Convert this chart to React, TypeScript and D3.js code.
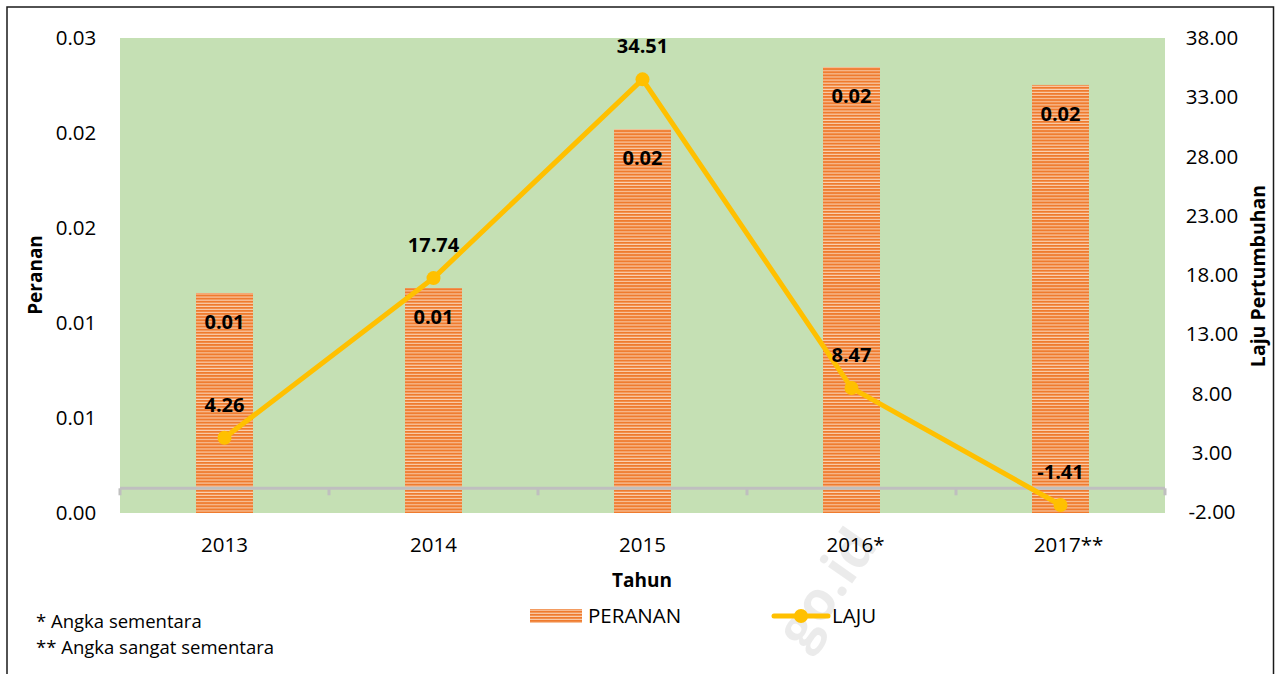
import React from "react";
import * as d3 from "d3";

const categories = ["2013", "2014", "2015", "2016*", "2017**"];
const peranan = [0.01158, 0.01184, 0.0202, 0.02347, 0.02253];
const perananLabels = ["0.01", "0.01", "0.02", "0.02", "0.02"];
const laju = [4.26, 17.74, 34.51, 8.47, -1.41];
const leftTicks = [0, 0.005, 0.01, 0.015, 0.02, 0.025];
const leftTickLabels = ["0.00", "0.01", "0.01", "0.02", "0.02", "0.03"];
const rightTicks = [-2, 3, 8, 13, 18, 23, 28, 33, 38];

const FONT = "'Open Sans', Carlito, Calibri, sans-serif";

export default function App() {
  const W = 1277, H = 674;
  const x0 = 120, x1 = 1165, yTop = 38, yBot = 513;
  const x = d3.scaleBand().domain(categories).range([x0, x1]).padding(0);
  const yL = d3.scaleLinear().domain([0, 0.025]).range([yBot, yTop]);
  const yR = d3.scaleLinear().domain([-2, 38]).range([yBot - 1, yTop]);
  const barW = 57;
  const cx = (c: string) => (x(c) as number) + x.bandwidth() / 2;
  const line = d3.line<number>().x((_, i) => cx(categories[i])).y((d) => yR(d));
  const axisY = yR(0);
  const bounds = [...categories.map((c) => x(c) as number), x1];

  return (
    <svg width={W} height={H} style={{ position: "absolute", left: 0, top: 0, fontFamily: FONT }}>
      <defs>
        <pattern id="stripes" patternUnits="userSpaceOnUse" width={8} height={3.1}>
          <rect x={0} y={0} width={8} height={3.1} fill="#FAD0B0" />
          <rect x={0} y={0} width={8} height={2} fill="#EF7B2E" />
        </pattern>
      </defs>
      <rect x={0} y={0} width={W} height={H} fill="#fff" />
      <rect x={7} y={7} width={1266.5} height={H + 20} fill="none" stroke="#1a1a1a" strokeWidth={1.5} />

      {/* watermark */}
      <text x={826} y={588} transform="rotate(-55 826 588)" fontSize={54} fontWeight="bold"
        fill="#000" fillOpacity={0.08} textAnchor="middle" dy="0.35em">go.id</text>

      <rect x={x0} y={yTop} width={x1 - x0} height={yBot - yTop} fill="#C5E0B4" />

      {/* bars */}
      {categories.map((c, i) => (
        <rect key={c} x={cx(c) - barW / 2} y={yL(peranan[i])} width={barW}
          height={yBot - yL(peranan[i])} fill="url(#stripes)" />
      ))}

      {/* category axis */}
      <line x1={x0} x2={x1} y1={axisY} y2={axisY} stroke="#BFBFBF" strokeWidth={3} />
      {bounds.map((b, i) => (
        <line key={i} x1={b} x2={b} y1={axisY} y2={axisY + 7} stroke="#BFBFBF" strokeWidth={3} />
      ))}

      {/* bar labels */}
      {categories.map((c, i) => (
        <text key={c} x={cx(c)} y={yL(peranan[i]) + 29} dy="0.35em" textAnchor="middle"
          fontSize={20} fontWeight="bold" fill="#000">{perananLabels[i]}</text>
      ))}

      {/* line */}
      <path d={line(laju) || ""} fill="none" stroke="#FFC000" strokeWidth={5} strokeLinejoin="round" />
      {laju.map((v, i) => (
        <circle key={i} cx={cx(categories[i])} cy={yR(v)} r={7} fill="#FFC000" />
      ))}
      {laju.map((v, i) => (
        <text key={i} x={cx(categories[i])} y={yR(v) - 33} dy="0.35em" textAnchor="middle"
          fontSize={20} fontWeight="bold" fill="#000">{v.toFixed(2)}</text>
      ))}

      {/* left ticks */}
      {leftTicks.map((t, i) => (
        <text key={i} x={76} y={yL(t)} dy="0.35em" textAnchor="middle" fontSize={20.5} fill="#000">
          {leftTickLabels[i]}
        </text>
      ))}
      {/* right ticks */}
      {rightTicks.map((t) => (
        <text key={t} x={1212} y={yR(t)} dy="0.35em" textAnchor="middle" fontSize={20.5} fill="#000">
          {t.toFixed(2)}
        </text>
      ))}
      {/* category labels */}
      {categories.map((c) => (
        <text key={c} x={cx(c) + (c.length > 4 ? (c.length - 4) * 4 : 0)} y={545} dy="0.35em"
          textAnchor="middle" fontSize={20.5} fill="#000">{c}</text>
      ))}

      {/* axis titles */}
      <text x={642} y={580} dy="0.35em" textAnchor="middle" fontSize={19} fontWeight="bold">Tahun</text>
      <text transform="translate(35 275) rotate(-90)" dy="0.35em" textAnchor="middle" fontSize={19} fontWeight="bold">Peranan</text>
      <text transform="translate(1258 276) rotate(-90)" dy="0.35em" textAnchor="middle" fontSize={19.5} fontWeight="bold">Laju Pertumbuhan</text>

      {/* legend */}
      <rect x={530} y={609} width={52} height={14} fill="url(#stripes)" />
      <text x={588} y={616} dy="0.35em" fontSize={20.5}>PERANAN</text>
      <line x1={774} x2={828} y1={616} y2={616} stroke="#FFC000" strokeWidth={5} strokeLinecap="round" />
      <circle cx={801} cy={616} r={7} fill="#FFC000" />
      <text x={832} y={616} dy="0.35em" fontSize={20.5}>LAJU</text>

      {/* footnotes */}
      <text x={36} y={622} dy="0.35em" fontSize={18.5}>* Angka sementara</text>
      <text x={36} y={648} dy="0.35em" fontSize={18.5}>** Angka sangat sementara</text>
    </svg>
  );
}
